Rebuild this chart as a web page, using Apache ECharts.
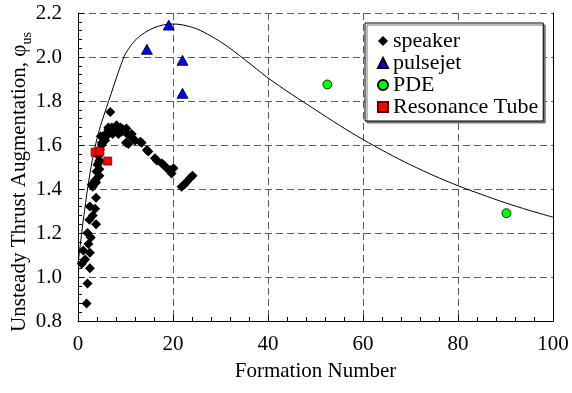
<!DOCTYPE html>
<html>
<head>
<meta charset="utf-8">
<script src="https://cdn.jsdelivr.net/npm/echarts@6/dist/echarts.min.js"></script>
<style>
  html, body { margin: 0; padding: 0; background: #fff; }
  #chart { width: 572px; height: 393px; }
</style>
</head>
<body>
<div id="chart"></div>
<script>
// fitted curve
const curveX = [0, 0.5, 1, 1.5, 2, 3, 4, 5, 6, 7, 8, 9, 10, 12, 14, 16, 18, 20, 22, 25, 28, 31, 35, 40, 45, 50, 55, 60, 65, 70, 75, 80, 85, 90, 95, 100];
const curveY = [1.06, 1.15, 1.24, 1.32, 1.40, 1.53, 1.63, 1.705, 1.77, 1.835, 1.90, 1.962, 2.015, 2.075, 2.11, 2.133, 2.146, 2.15, 2.146, 2.128, 2.095, 2.055, 1.99, 1.905, 1.83, 1.76, 1.69, 1.625, 1.565, 1.51, 1.46, 1.415, 1.375, 1.337, 1.303, 1.272];

const speakerX = [1.8, 2.0, 2.5, 0.8, 1.5, 2.5, 1.1, 2.2, 2.7, 2.0, 3.8, 2.4, 3.1, 3.6, 2.5, 3.8, 3.1, 3.8, 2.9, 4.5, 3.6, 3.9, 4.5, 4.1, 4.4, 4.5, 4.3, 4.6, 5.0, 5.0, 5.7, 5.3, 4.8, 6.0, 5.9, 6.4, 6.4, 7.1, 7.8, 8.1, 7.3, 8.8, 9.2, 9.9, 10.2, 9.5, 10.6, 11.3, 11.6, 10.1, 10.6, 12.0, 13.1, 13.4, 14.5, 14.8, 16.2, 16.6, 17.6, 18.0, 18.7, 19.4, 19.7, 20.1, 21.8, 22.4, 22.9, 23.6, 24.1, 6.8, 6.6, 7.5, 8.5, 8.0, 9.0];
const speakerY = [0.88, 0.97, 1.04, 1.06, 1.08, 1.11, 1.12, 1.15, 1.18, 1.20, 1.24, 1.26, 1.28, 1.31, 1.32, 1.36, 1.41, 1.43, 1.42, 1.46, 1.44, 1.48, 1.49, 1.51, 1.52, 1.53, 1.55, 1.58, 1.60, 1.61, 1.62, 1.64, 1.64, 1.64, 1.65, 1.67, 1.68, 1.68, 1.67, 1.69, 1.65, 1.67, 1.66, 1.66, 1.675, 1.67, 1.645, 1.65, 1.63, 1.61, 1.605, 1.62, 1.615, 1.61, 1.577, 1.57, 1.54, 1.53, 1.517, 1.51, 1.494, 1.486, 1.47, 1.494, 1.41, 1.42, 1.433, 1.45, 1.46, 1.75, 1.66, 1.66, 1.65, 1.67, 1.68];

const pulsejetX = [14.5, 19.1, 22.0, 22.0];
const pulsejetY = [2.035, 2.145, 1.985, 1.835];

const pdeX = [52.5, 90.2];
const pdeY = [1.875, 1.29];

const tubeX = [3.6, 4.6, 6.25];
const tubeY = [1.567, 1.572, 1.527];

const xTicks = [0, 20, 40, 60, 80, 100];
const yTicks = [0.8, 1.0, 1.2, 1.4, 1.6, 1.8, 2.0, 2.2];

const pairs = (xs, ys) => xs.map((x, i) => [x, ys[i]]);
const FONT = 'Liberation Serif';

const chart = echarts.init(document.getElementById('chart'), null, { renderer: 'canvas' });

const gridLine = { show: true, lineStyle: { color: '#5a5a5a', type: [7, 4], width: 1 } };

chart.setOption({
  animation: false,
  backgroundColor: '#fff',
  textStyle: { fontFamily: FONT },
  grid: { left: 78, right: 19, top: 13, bottom: 72, containLabel: false, outerBoundsMode: 'none' },
  // y title drawn as a rotated text so the φ subscript sits where the original has it
  graphic: [
    {
      type: 'text',
      x: 19,
      y: 182,
      rotation: Math.PI / 2,
      style: {
        text: '{t|Unsteady Thrust Augmentation, φ}{s|us}',
        align: 'center',
        verticalAlign: 'middle',
        rich: {
          t: { fontFamily: FONT, fontSize: 21, fill: '#000', lineHeight: 30 },
          s: { fontFamily: FONT, fontSize: 14, fill: '#000', verticalAlign: 'bottom' },
        },
      },
    },
  ],
  legend: {
    orient: 'vertical',
    left: 365,
    top: 23,
    padding: [7, 5, 3, 12],
    itemGap: 0,
    itemWidth: 10,
    itemHeight: 10,
    backgroundColor: '#fff',
    borderColor: '#000',
    borderWidth: 1,
    shadowColor: '#777',
    shadowOffsetX: 2,
    shadowOffsetY: 2,
    shadowBlur: 0,
    textStyle: { fontFamily: FONT, fontSize: 22, color: '#000', lineHeight: 21 },
    data: ['speaker', 'pulsejet', 'PDE', 'Resonance Tube'],
  },
  xAxis: {
    type: 'value',
    min: xTicks[0],
    max: xTicks[xTicks.length - 1],
    interval: 20,
    name: 'Formation Number',
    nameLocation: 'middle',
    nameGap: 40,
    nameMoveOverlap: false,
    nameTextStyle: { fontFamily: FONT, fontSize: 21, color: '#000' },
    axisLine: { show: true, onZero: false, lineStyle: { color: '#000', width: 1 } },
    axisTick: { show: true, inside: true, length: 6, lineStyle: { color: '#000' } },
    minorTick: { show: true, splitNumber: 5, length: 4, lineStyle: { color: '#000' } },
    axisLabel: { fontFamily: FONT, fontSize: 21, color: '#000', margin: 13 },
    splitLine: gridLine,
  },
  yAxis: [
    {
      type: 'value',
      min: yTicks[0],
      max: yTicks[yTicks.length - 1],
      interval: 0.2,
      axisLine: { show: true, onZero: false, lineStyle: { color: '#000', width: 1 } },
      axisTick: { show: true, inside: true, length: 6, lineStyle: { color: '#000' } },
      minorTick: { show: true, splitNumber: 5, length: 4, lineStyle: { color: '#000' } },
      axisLabel: {
        fontFamily: FONT, fontSize: 21, color: '#000', margin: 16,
        formatter: (v) => v.toFixed(1),
      },
      splitLine: gridLine,
    },
    {
      type: 'value',
      position: 'right',
      min: yTicks[0],
      max: yTicks[yTicks.length - 1],
      interval: 0.2,
      axisLine: { show: true, onZero: false, lineStyle: { color: '#000', width: 1 } },
      axisTick: { show: false },
      axisLabel: { show: false },
      splitLine: { show: false },
    },
  ],
  series: [
    {
      name: 'curve',
      type: 'line',
      data: pairs(curveX, curveY),
      smooth: 0.3,
      symbol: 'none',
      lineStyle: { color: '#000', width: 1 },
      z: 1,
      silent: true,
    },
    {
      name: 'speaker',
      type: 'scatter',
      data: pairs(speakerX, speakerY),
      symbol: 'diamond',
      symbolSize: 10,
      itemStyle: { color: '#000', opacity: 1 },
      z: 2,
    },
    {
      name: 'pulsejet',
      type: 'scatter',
      data: pairs(pulsejetX, pulsejetY),
      symbol: 'triangle',
      symbolSize: [11, 10],
      itemStyle: { color: '#0000ff', borderColor: '#000', borderWidth: 0.8, opacity: 1 },
      z: 3,
    },
    {
      name: 'PDE',
      type: 'scatter',
      data: pairs(pdeX, pdeY),
      symbol: 'circle',
      symbolSize: 9,
      itemStyle: { color: '#00ff00', borderColor: '#000', borderWidth: 0.8, opacity: 1 },
      z: 3,
    },
    {
      name: 'Resonance Tube',
      type: 'scatter',
      data: pairs(tubeX, tubeY),
      symbol: 'rect',
      symbolSize: 8,
      itemStyle: { color: '#ff0000', borderColor: '#600', borderWidth: 0.8, opacity: 1 },
      z: 4,
    },
  ],
});
</script>
</body>
</html>
